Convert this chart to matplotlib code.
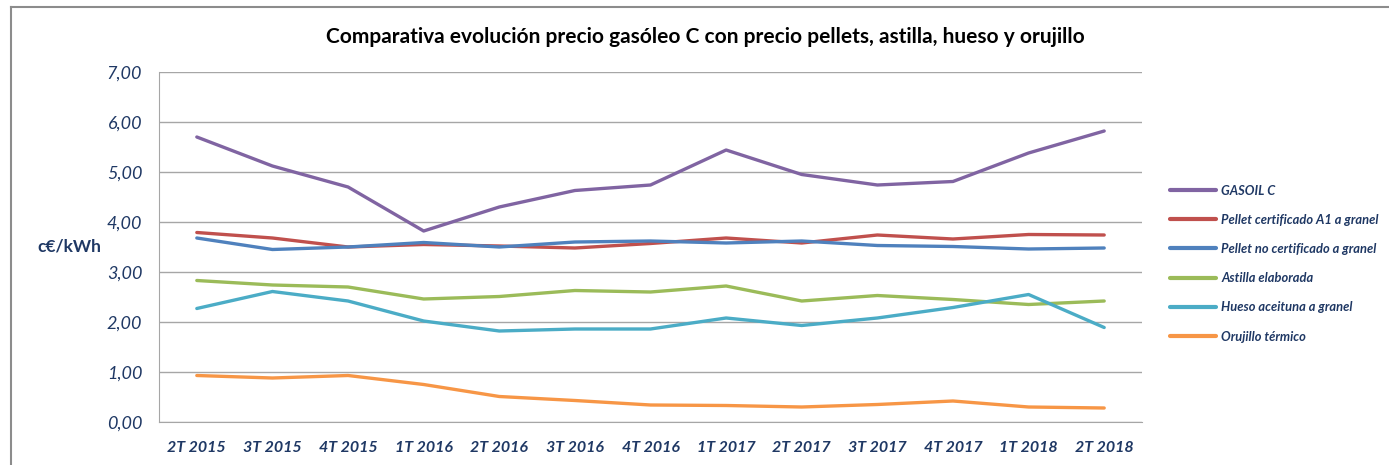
import numpy as np
import matplotlib
matplotlib.use("Agg")
import matplotlib.pyplot as plt
from matplotlib.lines import Line2D

plt.rcParams['font.family'] = ['Lato', 'DejaVu Sans']

quarters = ["2T 2015", "3T 2015", "4T 2015", "1T 2016", "2T 2016", "3T 2016", "4T 2016",
            "1T 2017", "2T 2017", "3T 2017", "4T 2017", "1T 2018", "2T 2018"]

gasoil = [5.70, 5.12, 4.70, 3.82, 4.30, 4.63, 4.74, 5.44, 4.95, 4.74, 4.81, 5.38, 5.82]
pellet_a1 = [3.79, 3.68, 3.50, 3.55, 3.52, 3.48, 3.57, 3.68, 3.58, 3.74, 3.66, 3.75, 3.74]
pellet_nc = [3.68, 3.45, 3.50, 3.59, 3.50, 3.60, 3.62, 3.58, 3.62, 3.53, 3.51, 3.46, 3.48]
astilla = [2.83, 2.74, 2.70, 2.46, 2.51, 2.63, 2.60, 2.72, 2.42, 2.53, 2.45, 2.35, 2.42]
hueso = [2.27, 2.61, 2.42, 2.02, 1.82, 1.86, 1.86, 2.08, 1.93, 2.08, 2.29, 2.55, 1.89]
orujillo = [0.93, 0.88, 0.93, 0.75, 0.51, 0.43, 0.34, 0.33, 0.30, 0.35, 0.42, 0.30, 0.28]

series = [
    ("GASOIL C", gasoil, "#8064A2"),
    ("Pellet certificado A1 a granel", pellet_a1, "#C0504D"),
    ("Pellet no certificado a granel", pellet_nc, "#4F81BD"),
    ("Astilla elaborada", astilla, "#9BBB59"),
    ("Hueso aceituna a granel", hueso, "#4BACC6"),
    ("Orujillo térmico", orujillo, "#F79646"),
]

txt = "#1F3864"
fig = plt.figure(figsize=(13.89, 4.65), dpi=100)
ax = fig.add_axes([159 / 1389, 1 - 422 / 465, (1142 - 159) / 1389, (422 - 72) / 465])

x = np.arange(len(quarters))
for name, vals, col in series:
    ax.plot(x, vals, color=col, lw=2.4, label=name, solid_capstyle='round')

ax.set_xlim(-0.5, len(quarters) - 0.5)
ax.set_ylim(0, 7)
ax.set_yticks(np.arange(0, 8, 1))
ax.set_yticklabels([f"{v:.2f}".replace(".", ",") for v in range(8)],
                   fontsize=13, style='italic', color=txt)
ax.set_xticks(x)
ax.set_xticklabels(quarters, fontsize=11.5, style='italic', weight='bold', color=txt)
ax.tick_params(length=0)
ax.tick_params(axis='y', pad=12)
ax.tick_params(axis='x', pad=14)
ax.grid(axis='y', color='#A6A6A6', lw=1)
ax.set_axisbelow(True)
for s in ['top', 'right']:
    ax.spines[s].set_visible(False)
ax.spines['left'].set_color('#A6A6A6')
ax.spines['bottom'].set_color('#A6A6A6')

fig.text(69 / 1389, 1 - 247 / 465, "c€/kWh", fontsize=12.5, weight='bold', color=txt,
         ha='center', va='center')
fig.text(705 / 1389, 1 - 37 / 465,
         "Comparativa evolución precio gasóleo C con precio pellets, astilla, hueso y orujillo",
         fontsize=15, weight='bold', color='black', ha='center', va='center')

leg = fig.legend(loc='upper left', bbox_to_anchor=(1158 / 1389, 1 - 173 / 465), frameon=False,
                 prop={'size': 9.3, 'style': 'italic', 'weight': 'bold'},
                 handlelength=3.6, handletextpad=0.4, labelspacing=1.33)
for t in leg.get_texts():
    t.set_color(txt)
for h in leg.get_lines():
    h.set_linewidth(3)

# chart border
fig.add_artist(Line2D([11 / 1389, 11 / 1389], [0, 1 - 7 / 465], color='#8C8C8C', lw=1.5,
                      transform=fig.transFigure))
fig.add_artist(Line2D([11 / 1389, 1], [1 - 7 / 465, 1 - 7 / 465], color='#8C8C8C', lw=1.5,
                      transform=fig.transFigure))

fig.savefig("out.png", dpi=100)
